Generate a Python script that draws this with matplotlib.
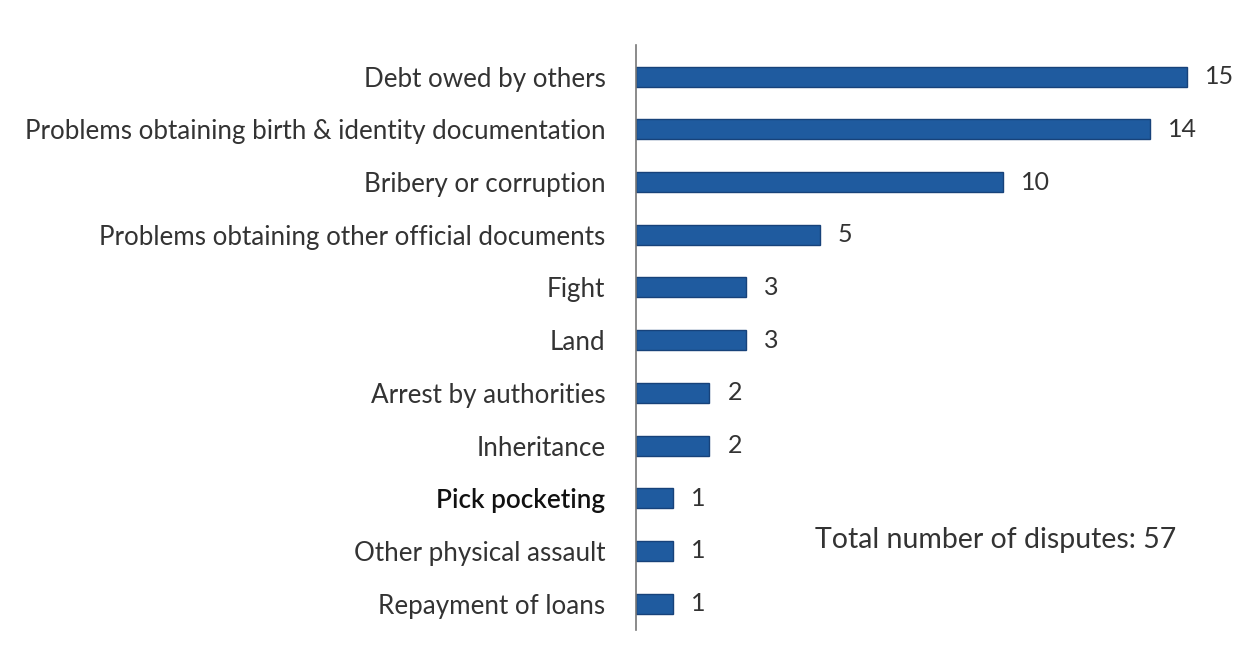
import matplotlib
matplotlib.use("Agg")
import matplotlib.pyplot as plt

categories = [
    "Debt owed by others",
    "Problems obtaining birth & identity documentation",
    "Bribery or corruption",
    "Problems obtaining other official documents",
    "Fight",
    "Land",
    "Arrest by authorities",
    "Inheritance",
    "Pick pocketing",
    "Other physical assault",
    "Repayment of loans",
]
counts = [15, 14, 10, 5, 3, 3, 2, 2, 1, 1, 1]
total_label = "Total number of disputes: 57"

plt.rcParams["font.family"] = ["Lato", "DejaVu Sans"]

fig = plt.figure(figsize=(12.46, 6.62), dpi=100)
ax = fig.add_axes([636 / 1246, 1 - 630 / 662, (1230 - 636) / 1246, 585 / 662])

ypos = list(range(len(categories)))
ax.barh(ypos, counts, height=0.38, color="#1f5b9f", edgecolor="#17427a", linewidth=1.0)

for y, v in zip(ypos, counts):
    ax.annotate(str(v), (v, y), xytext=(13, 0), textcoords="offset points",
                va="center", ha="left", fontsize=18, color="#333333")

ax.set_xlim(0, 594 / 36.7)
ax.set_ylim(10.5, -0.6)
ax.set_yticks(ypos)
ax.set_yticklabels(categories, fontsize=18.7, color="#333333")
for lbl in ax.get_yticklabels():
    if lbl.get_text() == "Pick pocketing":
        lbl.set_color("#111111")
        lbl.set_fontweight("semibold")
ax.tick_params(axis="y", length=0, pad=22)
ax.set_xticks([])

for s in ["top", "right", "bottom"]:
    ax.spines[s].set_visible(False)
ax.spines["left"].set_color("#777777")
ax.spines["left"].set_linewidth(1.2)

ax.text(4.88, 8.79, total_label, fontsize=20.5, color="#333333", va="center", ha="left")

fig.savefig("out.png", dpi=100, facecolor="white")
